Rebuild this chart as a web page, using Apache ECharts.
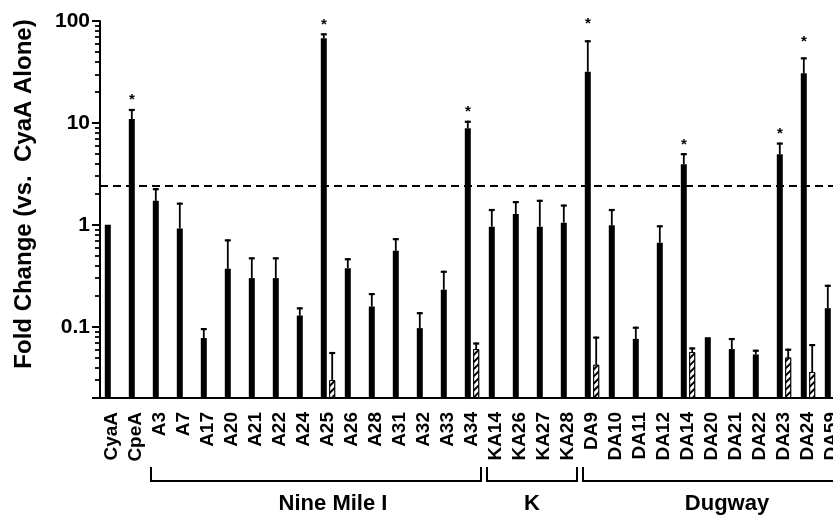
<!DOCTYPE html>
<html>
<head>
<meta charset="utf-8">
<script src="https://cdn.jsdelivr.net/npm/echarts@6/dist/echarts.min.js"></script>
<style>
  html, body { margin: 0; padding: 0; background: #fff; overflow: hidden; }
  /* the original figure is cropped on the right, so the canvas runs past the window */
  #chart { width: 860px; height: 516px; }
</style>
</head>
<body>
<div id="chart"></div>
<script>
const categories = ['CyaA', 'CpeA', 'A3', 'A7', 'A17', 'A20', 'A21', 'A22', 'A24', 'A25', 'A26', 'A28', 'A31', 'A32', 'A33', 'A34',
  'KA14', 'KA26', 'KA27', 'KA28', 'DA9', 'DA10', 'DA11', 'DA12', 'DA14', 'DA20', 'DA21', 'DA22', 'DA23', 'DA24', 'DA59'];

// solid bars: mean fold change and top of the error bar
const foldChange = [1.0, 10.9, 1.72, 0.92, 0.0775, 0.37, 0.30, 0.30, 0.129, 67.7, 0.376, 0.158, 0.556, 0.097, 0.231, 8.87,
  0.96, 1.28, 0.96, 1.05, 31.8, 0.99, 0.076, 0.667, 3.94, 0.079, 0.0604, 0.0535, 4.93, 30.7, 0.152];
const foldChangeErr = [null, 13.7, 2.29, 1.65, 0.097, 0.72, 0.48, 0.48, 0.155, 75.7, 0.47, 0.214, 0.74, 0.139, 0.354, 10.5,
  1.43, 1.71, 1.76, 1.58, 64.7, 1.43, 0.10, 0.99, 5.05, null, 0.0775, 0.0595, 6.41, 44, 0.258];

// hatched bars
const hatched = [null, null, null, null, null, null, null, null, null, 0.030, null, null, null, null, null, 0.0604,
  null, null, null, null, 0.0424, null, null, null, 0.0565, null, null, null, 0.050, 0.036, null];
const hatchedErr = [null, null, null, null, null, null, null, null, null, 0.0565, null, null, null, null, null, 0.070,
  null, null, null, null, 0.080, null, null, null, 0.0627, null, null, null, 0.0609, 0.0676, null];

// significance stars (height on the y scale)
const starAt = [null, 16.9, null, null, null, null, null, null, null, 91, null, null, null, null, null, 12.8,
  null, null, null, null, 93, null, null, null, 6.1, null, null, null, 7.8, 62, null];

const threshold = 2.4;

const groupNames = ['Nine Mile I', 'K', 'Dugway'];
const groupFirst = ['A3', 'KA14', 'DA9'];
const groupLast = ['A34', 'KA28', 'DA59'];

const FONT = '"Liberation Sans", Arial, Helvetica, sans-serif';
const chart = echarts.init(document.getElementById('chart'));

const errRows = (vals, tops) => vals.map((v, i) => [i, v, tops[i]]).filter(d => d[1] != null && d[2] != null);

function errorBar(offset) {
  return (params, api) => {
    const lo = api.coord([api.value(0), api.value(1)]);
    const hi = api.coord([api.value(0), api.value(2)]);
    const x = lo[0] + offset;
    return {
      type: 'group',
      children: [
        { type: 'line', shape: { x1: x, y1: lo[1], x2: x, y2: hi[1] }, style: { stroke: '#000', lineWidth: 1.8 } },
        { type: 'line', shape: { x1: x - 3, y1: hi[1] + 1, x2: x + 3, y2: hi[1] + 1 }, style: { stroke: '#000', lineWidth: 2.2 } }
      ]
    };
  };
}

chart.setOption({
  animation: false,
  backgroundColor: '#fff',
  grid: { left: 100, top: 21, width: 744, height: 377, containLabel: false },
  xAxis: {
    type: 'category',
    data: categories,
    axisLine: { lineStyle: { color: '#000', width: 2 } },
    axisTick: { alignWithLabel: true, length: 6, lineStyle: { color: '#000', width: 2 } },
    axisLabel: { interval: 0, rotate: 90, margin: 14, color: '#000', fontSize: 19, fontWeight: 'bold', fontFamily: FONT }
  },
  yAxis: {
    type: 'log',
    logBase: 10,
    min: 0.02,
    max: 100,
    startValue: 0.02,
    axisLine: { show: true, lineStyle: { color: '#000', width: 2 } },
    axisTick: { show: true, length: 8, lineStyle: { color: '#000', width: 2 } },
    minorTick: { show: true, splitNumber: 9, length: 5, lineStyle: { color: '#000', width: 1.8 } },
    splitLine: { show: false },
    minorSplitLine: { show: false },
    axisLabel: { showMinLabel: false, margin: 10, color: '#000', fontSize: 21, fontWeight: 'bold', fontFamily: FONT }
  },
  series: [
    {
      name: 'solid',
      type: 'bar',
      data: foldChange,
      barWidth: 6,
      barGap: '40%',
      itemStyle: { color: '#000' },
      markLine: {
        silent: true,
        symbol: 'none',
        label: { show: false },
        lineStyle: { color: '#000', width: 2, type: [8, 5] },
        data: [{ yAxis: threshold }]
      }
    },
    {
      name: 'hatched',
      type: 'bar',
      data: hatched,
      barWidth: 6,
      itemStyle: {
        color: '#fff',
        borderColor: '#000',
        borderWidth: 1,
        decal: { symbol: 'rect', symbolSize: 1, dashArrayX: [1, 0], dashArrayY: [1.5, 2.5], rotation: -Math.PI / 4, color: '#000', backgroundColor: '#fff' }
      }
    },
    { type: 'custom', renderItem: errorBar(-4.2), data: errRows(foldChange, foldChangeErr), encode: { x: 0, y: [1, 2] }, z: 3 },
    { type: 'custom', renderItem: errorBar(4.2), data: errRows(hatched, hatchedErr), encode: { x: 0, y: [1, 2] }, z: 3 },
    {
      type: 'custom',
      data: starAt.map((v, i) => [i, v]).filter(d => d[1] != null),
      encode: { x: 0, y: 1 },
      renderItem: (params, api) => {
        const p = api.coord([api.value(0), api.value(1)]);
        return { type: 'text', x: p[0] - 4, y: p[1], style: { text: '*', fontSize: 15, fontWeight: 'bold', fill: '#000', align: 'center', verticalAlign: 'middle', fontFamily: FONT } };
      }
    }
  ]
});

// axis title and group brackets under the category labels
const graphics = [{
  type: 'text', x: 24, y: 194, rotation: Math.PI / 2,
  style: { text: 'Fold Change (vs.  CyaA Alone)', fontSize: 24, fontWeight: 'bold', fill: '#000', align: 'center', verticalAlign: 'middle', fontFamily: FONT }
}];
const labelShift = [17, 0, 15];
groupNames.forEach((name, g) => {
  const x1 = chart.convertToPixel({ xAxisIndex: 0 }, groupFirst[g]) - 9;
  const x2 = chart.convertToPixel({ xAxisIndex: 0 }, groupLast[g]) + 9;
  graphics.push({
    type: 'polyline',
    shape: { points: [[x1, 467], [x1, 481], [x2, 481], [x2, 467]] },
    style: { stroke: '#000', lineWidth: 2, fill: null }
  });
  graphics.push({
    type: 'text', x: (x1 + x2) / 2 + labelShift[g], y: 504,
    style: { text: name, fontSize: 22, fontWeight: 'bold', fill: '#000', align: 'center', verticalAlign: 'middle', fontFamily: FONT }
  });
});
chart.setOption({ graphic: graphics });
</script>
</body>
</html>
